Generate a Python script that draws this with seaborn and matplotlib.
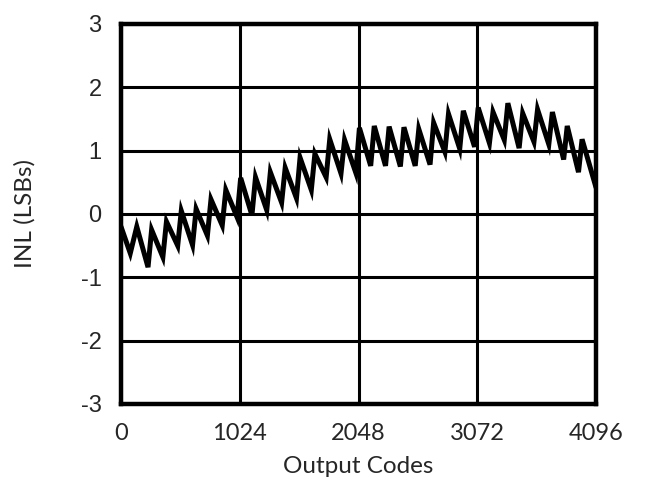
import numpy as np
import pandas as pd
import matplotlib
matplotlib.use("Agg")
import matplotlib.pyplot as plt
import seaborn as sns

# ---- data ----
segment_size = 128          # codes per sawtooth segment
start_inl = -0.2            # INL at code 0
peak_offset = 8             # code offset of each peak after a segment boundary
trough_offset = 105         # code offset of each trough after a segment boundary
first_trough_code = 80
peak_inl = [-0.2, -0.25, -0.12, 0.05, 0.08, 0.23, 0.38, 0.57,
            0.58, 0.66, 0.73, 0.89, 0.95, 1.18, 1.17, 1.36,
            1.39, 1.38, 1.37, 1.34, 1.44, 1.58, 1.63, 1.68,
            1.61, 1.75, 1.59, 1.65, 1.61, 1.39, 1.18]   # peaks of segments 1..31
trough_inl = [-0.62, -0.84, -0.68, -0.5, -0.49, -0.34, -0.18, -0.05,
              -0.02, 0.06, 0.18, 0.25, 0.38, 0.58, 0.64, 0.65,
              0.76, 0.76, 0.75, 0.76, 0.78, 0.98, 1.03, 1.06,
              1.12, 1.17, 1.04, 1.14, 1.1, 0.86, 0.66]  # troughs of segments 0..30
end_code = 4096
end_inl = 0.42

x_ticks = [0, 1024, 2048, 3072, 4096]
y_ticks = [-3, -2, -1, 0, 1, 2, 3]
x_label = "Output Codes"
y_label = "INL (LSBs)"

# ---- build the curve ----
codes = [0]
inl = [start_inl]
for k, t in enumerate(trough_inl):
    tc = first_trough_code if k == 0 else k * segment_size + trough_offset
    codes.append(tc)
    inl.append(t)
    codes.append((k + 1) * segment_size + peak_offset)
    inl.append(peak_inl[k])
codes.append(end_code)
inl.append(end_inl)
df = pd.DataFrame({"code": codes, "inl": inl})

sns.set_style("white")
plt.rcParams["font.family"] = ["Lato", "DejaVu Sans"]

fig = plt.figure(figsize=(6.45, 4.83), dpi=100)
ax = fig.add_axes([121 / 645, 1 - 404 / 483, 475 / 645, 380 / 483])

sns.lineplot(data=df, x="code", y="inl", ax=ax, color="black",
             linewidth=3.6, solid_joinstyle="miter", zorder=3)

ax.set_xlim(0, 4096)
ax.set_ylim(-3, 3)
ax.set_xticks(x_ticks)
ax.set_yticks(y_ticks)
ax.set_xticklabels([str(v) for v in x_ticks], fontsize=17, family="Lato")
ax.set_yticklabels([str(v) for v in y_ticks], fontsize=17, family="Liberation Sans")
ax.tick_params(axis="x", length=0, pad=14)
ax.tick_params(axis="y", length=0, pad=14)
ax.grid(True, color="black", linewidth=2.2)
ax.set_axisbelow(True)
for s in ax.spines.values():
    s.set_visible(True)
    s.set_color("black")
    s.set_linewidth(3.2)
ax.set_xlabel(x_label, fontsize=17.5, family="Lato")
ax.set_ylabel(y_label, fontsize=17.5, family="Lato")
ax.xaxis.set_label_coords(0.5, (404 - 456) / 380)
ax.yaxis.set_label_coords((36 - 121) / 475, 0.5)

fig.savefig("out.png", dpi=100)
